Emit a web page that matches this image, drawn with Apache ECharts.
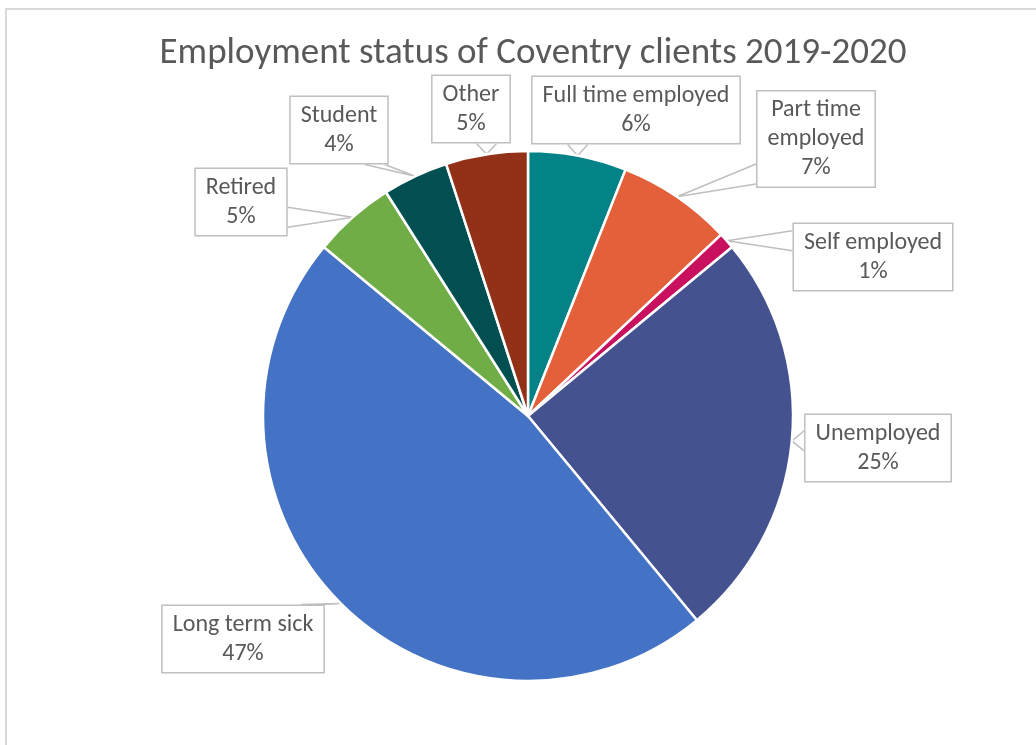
<!DOCTYPE html>
<html>
<head>
<meta charset="utf-8">
<script src="https://cdn.jsdelivr.net/npm/echarts@6/dist/echarts.min.js"></script>
<style>
  html, body { margin: 0; padding: 0; background: #fff; }
  #chart { width: 1036px; height: 745px; }
</style>
</head>
<body>
<div id="chart"></div>
<script>
// Employment status, share of clients (%)
const categories = ['Full time employed', 'Part time employed', 'Self employed', 'Unemployed',
  'Long term sick', 'Retired', 'Student', 'Other'];
const shares = [6, 7, 1, 25, 47, 5, 4, 5];
const colors = ['#038387', '#E3603A', '#C8105E', '#44528F', '#4472C4', '#70AD47', '#024F52', '#923117'];

// Callout box centres (px) for each slice label
const calloutCentres = [
  [636, 110], [816, 139], [873, 257], [878, 448],
  [243, 639], [241, 202], [339, 130], [471, 109]
];

const FONT = 'Calibri, Carlito, Lato, sans-serif';
const chart = echarts.init(document.getElementById('chart'), null, { renderer: 'canvas' });

function clamp(v, a, b) { return Math.max(a, Math.min(b, v)); }

// Wedge pointer from the callout edge facing the slice to the slice rim
function calloutLayout(params) {
  const c = calloutCentres[params.dataIndex];
  const w = params.labelRect.width, h = params.labelRect.height;
  const x0 = c[0] - w / 2, y0 = c[1] - h / 2, x1 = x0 + w, y1 = y0 + h;
  const tip = params.labelLinePoints ? params.labelLinePoints[0] : c;
  const insideX = tip[0] > x0 && tip[0] < x1;
  const insideY = tip[1] > y0 && tip[1] < y1;
  let horizontal;
  if (insideY) horizontal = true;
  else if (insideX) horizontal = false;
  else horizontal = Math.abs(tip[0] - c[0]) / w > Math.abs(tip[1] - c[1]) / h * 1.6;
  const half = 10;
  let b1, b2;
  if (horizontal) {
    const ex = tip[0] > c[0] ? x1 : x0;
    const my = clamp(tip[1], y0 + half + 4, y1 - half - 4);
    b1 = [ex, my - half]; b2 = [ex, my + half];
  } else {
    const ey = tip[1] > c[1] ? y1 : y0;
    const mx = clamp(tip[0], x0 + half + 4, x1 - half - 4);
    b1 = [mx - half, ey]; b2 = [mx + half, ey];
  }
  return {
    x: c[0], y: c[1], align: 'center', verticalAlign: 'middle',
    labelLinePoints: [b1, tip, b2]
  };
}

chart.setOption({
  backgroundColor: '#ffffff',
  animation: false,
  title: {
    text: 'Employment status of Coventry clients 2019-2020',
    left: 528, top: 30, textAlign: 'center',
    textStyle: { fontFamily: FONT, fontSize: 37, fontWeight: 'normal', color: '#595959' }
  },
  graphic: [{
    type: 'rect', silent: true,
    shape: { x: 6, y: 9, width: 1100, height: 800 },
    style: { fill: 'none', stroke: '#D9D9D9', lineWidth: 2 }
  }],
  series: [{
    type: 'pie',
    center: [528, 416],
    radius: 265,
    startAngle: 90,
    clockwise: true,
    percentPrecision: 0,
    avoidLabelOverlap: false,
    data: categories.map((name, i) => ({ name, value: shares[i], itemStyle: { color: colors[i] } })),
    itemStyle: { borderColor: '#ffffff', borderWidth: 2.5 },
    label: {
      show: true,
      position: 'outside',
      formatter: p => (p.name === 'Part time employed' ? 'Part time\nemployed' : p.name) + '\n' + p.percent + '%',
      fontFamily: FONT, fontSize: 24, lineHeight: 29, color: '#595959',
      align: 'center',
      backgroundColor: '#ffffff',
      borderColor: '#BFBFBF', borderWidth: 1.5,
      padding: [4, 10, 4, 10]
    },
    labelLine: {
      show: true, length: 20, length2: 10, smooth: false,
      lineStyle: { color: '#BFBFBF', width: 1.5 }
    },
    labelLayout: calloutLayout,
    emphasis: { disabled: true }
  }]
});
</script>
</body>
</html>
